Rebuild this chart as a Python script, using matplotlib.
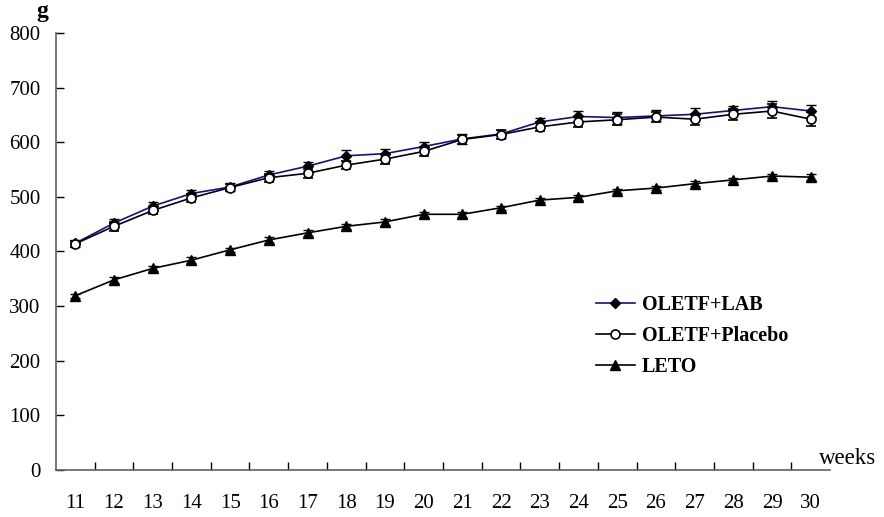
import matplotlib
matplotlib.use("Agg")
import matplotlib.pyplot as plt
from matplotlib.ticker import FixedLocator, NullFormatter

weeks = list(range(11, 31))
week_labels = [str(w) for w in weeks]

lab_mean = [415, 452, 483, 506, 518, 540, 556, 575, 579, 592,
            606, 615, 637, 647, 645, 648, 651, 658, 665, 657]
lab_sem = [6, 7, 7, 7, 7, 8, 8, 10, 8, 9,
           9, 8, 7, 10, 11, 10, 11, 9, 10, 11]

placebo_mean = [414, 446, 475, 498, 517, 535, 543, 558, 569, 583,
                605, 614, 628, 637, 641, 646, 642, 651, 657, 642]
placebo_sem = [6, 8, 7, 8, 7, 7, 8, 8, 9, 9,
               8, 9, 8, 9, 10, 9, 10, 10, 12, 13]

leto_mean = [319, 348, 369, 384, 403, 421, 434, 446, 454, 468,
             468, 480, 494, 499, 511, 516, 524, 531, 538, 536]
leto_sem = [4, 5, 5, 5, 4, 5, 5, 5, 5, 5,
            5, 4, 4, 4, 4, 4, 5, 4, 4, 5]

series_labels = ["OLETF+LAB", "OLETF+Placebo", "LETO"]

plt.rcParams["font.family"] = ["Liberation Serif", "DejaVu Serif"]

fig = plt.figure(figsize=(8.84, 5.17), dpi=100)
ax = fig.add_axes([0.0633, 0.0909, 0.8757, 0.8455])

err_kw = dict(capsize=3.4, elinewidth=1.0, capthick=1.0, ecolor="black")

c_lab = ax.errorbar(weeks, lab_mean, yerr=lab_sem, color="#10108a", lw=1.2,
                    marker="D", ms=5.5, mfc="black", mec="black",
                    zorder=3, **err_kw)
c_pla = ax.errorbar(weeks, placebo_mean, yerr=placebo_sem, color="black",
                    lw=1.2, marker="o", ms=6.5, mfc="white", mec="black",
                    mew=1.2, zorder=4, **err_kw)
c_leto = ax.errorbar(weeks, leto_mean, yerr=leto_sem, color="black", lw=1.2,
                     marker="^", ms=6.5, mfc="black", mec="black",
                     zorder=3, **err_kw)

ax.set_xlim(10.5, 30.5)
ax.set_ylim(0, 800)

spine_color = "#606060"
for side in ("top", "right"):
    ax.spines[side].set_visible(False)
for side in ("left", "bottom"):
    ax.spines[side].set_color(spine_color)
    ax.spines[side].set_linewidth(1.2)

# category boundaries carry the tick marks, centres carry the labels
ax.xaxis.set_major_locator(FixedLocator([w + 0.5 for w in weeks[:-1]]))
ax.xaxis.set_major_formatter(NullFormatter())
ax.xaxis.set_minor_locator(FixedLocator(weeks))
ax.set_xticklabels(week_labels, minor=True)
ax.tick_params(axis="x", which="major", direction="in", length=6,
               width=1, color="black")
ax.tick_params(axis="x", which="minor", length=0, pad=17, labelsize=15)

ax.set_yticks(range(0, 801, 100))
ax.tick_params(axis="y", direction="in", length=6, width=1, color="black",
               pad=11, labelsize=15)

fig.text(42 / 884, 1 - 11 / 517, "g", fontsize=17, fontweight="bold",
         ha="center", va="center")
fig.text(848 / 884, 1 - 459 / 517, "weeks", fontsize=16.5,
         ha="center", va="center")

leg = ax.legend([c_lab[0], c_pla[0], c_leto[0]], series_labels,
                loc="upper left", bbox_to_anchor=(0.698, 0.401),
                frameon=False, prop={"weight": "bold", "size": 14.5},
                handlelength=1.9, handletextpad=0.35, labelspacing=0.55,
                borderaxespad=0, borderpad=0)

fig.savefig("out.png", dpi=100)
